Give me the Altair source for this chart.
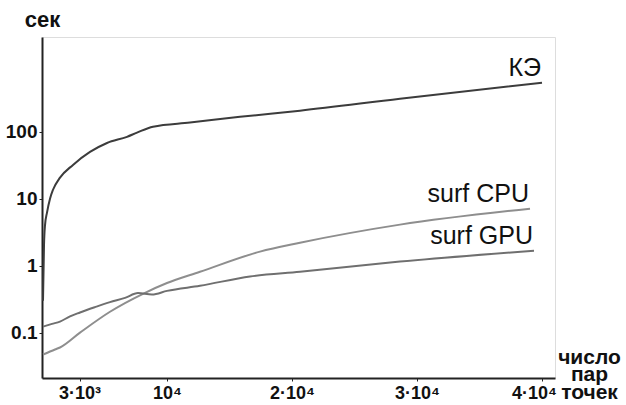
import altair as alt
import pandas as pd

# Data
ke_x = [80, 160, 240, 400, 640, 880, 1440, 2480, 3840, 5200, 6800, 7600, 8880, 11840, 15840, 20640, 28640, 40000]
ke_y = [0.3, 2, 4, 6.2, 10, 13.6, 20.6, 32, 50, 68, 84, 97, 119, 137, 167, 206, 311, 540]

cpu_x = [80, 1040, 1440, 3040, 5440, 8080, 10000, 12640, 17440, 20640, 28640, 39040]
cpu_y = [0.047, 0.056, 0.06, 0.1, 0.205, 0.38, 0.55, 0.81, 1.62, 2.2, 4.1, 7.1]

gpu_x = [80, 800, 1440, 2240, 3040, 4240, 5440, 6640, 7680, 8800, 10000, 12640, 16640, 20640, 28640, 39360]
gpu_y = [0.123, 0.135, 0.146, 0.175, 0.2, 0.24, 0.285, 0.33, 0.39, 0.37, 0.42, 0.50, 0.69, 0.81, 1.15, 1.67]

series_names = ["КЭ", "surf CPU", "surf GPU"]
series_colors = ["#3c3c3c", "#8e8e8e", "#6f6f6f"]

x_ticks = [3000, 10000, 20000, 30000, 40000]
x_tick_labels = ["3·10³", "10⁴", "2·10⁴", "3·10⁴", "4·10⁴"]
y_ticks = [0.1, 1, 10, 100]

rows = []
for name, xs, ys in zip(series_names, [ke_x, cpu_x, gpu_x], [ke_y, cpu_y, gpu_y]):
    for i, (a, b) in enumerate(zip(xs, ys)):
        rows.append({"series": name, "n": a, "t": b, "order": i})
df = pd.DataFrame(rows)

last = df.sort_values("order").groupby("series").tail(1)

label_expr = " : ".join(
    [f"datum.value == {v} ? '{l}'" for v, l in zip(x_ticks, x_tick_labels)]
) + " : ''"

xscale = alt.Scale(domain=[0, 41040], nice=False, zero=False)
yscale = alt.Scale(type="log", domain=[0.021, 2600], nice=False)
color = alt.Color("series:N", scale=alt.Scale(domain=series_names, range=series_colors), legend=None)

lines = alt.Chart(df).mark_line(strokeWidth=2, interpolate="monotone").encode(
    x=alt.X("n:Q", scale=xscale, axis=alt.Axis(
        values=x_ticks, labelExpr=label_expr, grid=False, domainColor="#222", domainWidth=2,
        tickColor="#222", tickSize=3, labelFont="Liberation Sans", labelFontWeight="bold",
        labelFontSize=18, labelColor="#111", labelPadding=3, labelFlush=False,
        labelOffset={"condition": {"test": "datum.value == 40000", "value": -8}, "value": 0},
        title=["число", "пар", "точек"], titleFont="Liberation Sans", titleFontSize=21,
        titleFontWeight="bold", titleColor="#111", titleAngle=0, titleAlign="center",
        titleBaseline="alphabetic", titleLineHeight=17.5, titleX=547, titleY=-15,
    )),
    y=alt.Y("t:Q", scale=yscale, axis=alt.Axis(
        values=y_ticks, format="~g", grid=False, domainColor="#222", domainWidth=2,
        tickColor="#222", tickSize=3, labelFont="Liberation Sans", labelFontWeight="bold",
        labelFontSize=19, labelColor="#111", labelPadding=2,
        title="сек", titleFont="Liberation Sans", titleFontSize=22, titleFontWeight="bold",
        titleColor="#111", titleAngle=0, titleAlign="center", titleBaseline="alphabetic",
        titleX=0, titleY=-11,
    )),
    color=color,
    order="order:Q",
)

labels = alt.Chart(last).mark_text(
    align="right", baseline="alphabetic", dx=-1, dy=-7, fontSize=25,
    font="Liberation Sans", color="#111",
).encode(
    x=alt.X("n:Q", scale=xscale),
    y=alt.Y("t:Q", scale=yscale),
    text="series:N",
)

chart = alt.layer(lines, labels).properties(
    width=513, height=341,
    padding={"left": 42, "top": 37, "right": 71, "bottom": 27},
    autosize=alt.AutoSizeParams(type="none"),
).configure_view(stroke=None).configure(background="white")

chart.save("out.html", embed_options={"renderer": "svg", "actions": False})
